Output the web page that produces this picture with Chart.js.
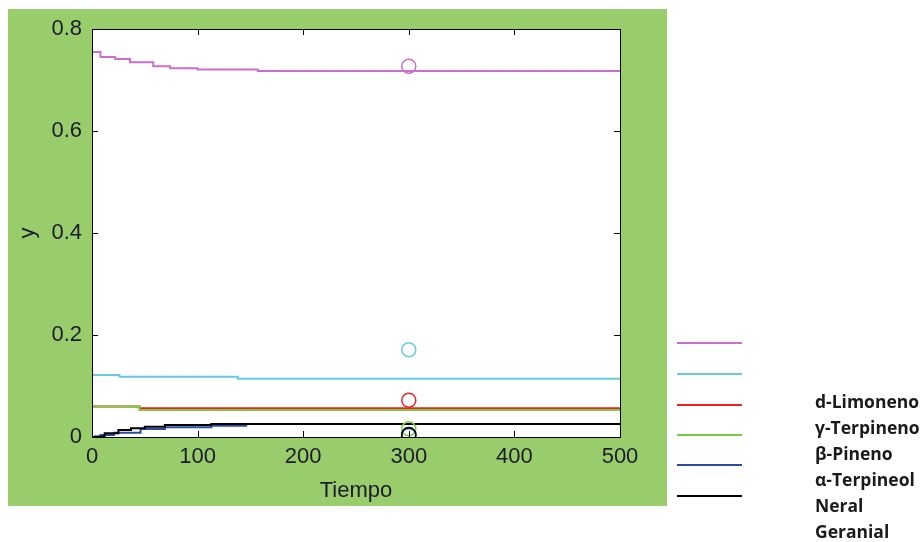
<!DOCTYPE html>
<html lang="es">
<head>
  <meta charset="UTF-8" />
  <title>y vs Tiempo</title>
  <script src="https://cdn.jsdelivr.net/npm/chart.js"></script>
  <style>
    body {
      margin: 0;
      background: #ffffff;
      width: 922px;
      height: 542px;
      position: relative;
      overflow: hidden;
    }
    #grafico {
      position: absolute;
      left: 0;
      top: 0;
    }
    .ley-linea {
      position: absolute;
      left: 677px;
      width: 65px;
      height: 2px;
    }
    .ley-texto {
      position: absolute;
      left: 815px;
      font-family: "Open Sans", Lato, sans-serif;
      font-weight: bold;
      font-size: 17.5px;
      color: #1a1a1a;
      line-height: 26px;
      white-space: nowrap;
    }
  </style>
</head>
<body>
  <canvas id="grafico" width="922" height="542"></canvas>
  <div id="leyenda"></div>

  <script>
    // componentes (orden de la leyenda)
    const componentes = ['d-Limoneno', 'γ-Terpineno', 'β-Pineno', 'α-Terpineol', 'Neral', 'Geranial'];
    const colores = ['#cc6ecc', '#66ccdd', '#ee2222', '#77cc44', '#2a4aa8', '#000000'];

    // curvas del modelo (escalonadas)
    const tLimoneno = [0, 8, 22, 36, 58, 74, 100, 157, 500];
    const yLimoneno = [0.755, 0.745, 0.741, 0.735, 0.727, 0.723, 0.7205, 0.7175, 0.7175];
    const tTerpineno = [0, 26, 138, 500];
    const yTerpineno = [0.1215, 0.1182, 0.1143, 0.1143];
    const tPineno = [0, 45, 500];
    const yPineno = [0.0598, 0.0565, 0.0565];
    const tTerpineol = [0, 45, 500];
    const yTerpineol = [0.0598, 0.0528, 0.0528];
    const tNeral = [0, 8, 21, 46, 69, 113, 146, 500];
    const yNeral = [0, 0.004, 0.0085, 0.0157, 0.019, 0.022, 0.0255, 0.0255];
    const tGeranial = [0, 3, 12, 25, 37, 50, 69, 113, 500];
    const yGeranial = [0, 0.001, 0.0073, 0.0137, 0.017, 0.020, 0.0235, 0.0255, 0.0255];

    // datos experimentales (circulos)
    const tExp = 300;
    const yExp = [0.727, 0.171, 0.072, 0.016, 0.003, 0.005];

    // ejes
    const xTicks = [0, 100, 200, 300, 400, 500];
    const yTicks = [0, 0.2, 0.4, 0.6, 0.8];

    const curvasT = [tLimoneno, tTerpineno, tPineno, tTerpineol, tNeral, tGeranial];
    const curvasY = [yLimoneno, yTerpineno, yPineno, yTerpineol, yNeral, yGeranial];

    const datasets = [];
    componentes.forEach((nombre, i) => {
      datasets.push({
        label: nombre,
        data: curvasT[i].map((t, k) => ({ x: t, y: curvasY[i][k] })),
        borderColor: colores[i],
        borderWidth: 2,
        pointRadius: 0,
        stepped: true,
        fill: false,
        order: 20 - i
      });
    });
    componentes.forEach((nombre, i) => {
      datasets.push({
        label: nombre + ' exp',
        type: 'scatter',
        data: [{ x: tExp, y: yExp[i] }],
        borderColor: colores[i],
        backgroundColor: 'rgba(0,0,0,0)',
        borderWidth: 1.5,
        pointRadius: 7,
        pointHoverRadius: 7,
        order: 6 - i
      });
    });

    const fondoYMarco = {
      id: 'fondoYMarco',
      beforeDraw(chart) {
        const ctx = chart.ctx;
        ctx.save();
        ctx.fillStyle = '#99cc6a';
        ctx.fillRect(8, 9, 659, 497);
        const a = chart.chartArea;
        ctx.fillStyle = '#ffffff';
        ctx.fillRect(a.left, a.top, a.right - a.left, a.bottom - a.top);
        ctx.restore();
      },
      afterDraw(chart) {
        const ctx = chart.ctx;
        const a = chart.chartArea;
        const xs = chart.scales.x, ys = chart.scales.y;
        ctx.save();
        ctx.strokeStyle = '#000';
        ctx.lineWidth = 1;
        ctx.strokeRect(Math.round(a.left) + 0.5, Math.round(a.top) + 0.5,
          Math.round(a.right - a.left), Math.round(a.bottom - a.top));
        ctx.beginPath();
        xTicks.forEach(v => {
          const px = Math.round(xs.getPixelForValue(v)) + 0.5;
          ctx.moveTo(px, a.bottom); ctx.lineTo(px, a.bottom - 6);
          ctx.moveTo(px, a.top); ctx.lineTo(px, a.top + 6);
        });
        yTicks.forEach(v => {
          const py = Math.round(ys.getPixelForValue(v)) + 0.5;
          ctx.moveTo(a.left, py); ctx.lineTo(a.left + 6, py);
          ctx.moveTo(a.right, py); ctx.lineTo(a.right - 6, py);
        });
        ctx.stroke();
        ctx.restore();
      }
    };

    const fuenteEje = { family: '"Liberation Sans", Arial, sans-serif', size: 22 };

    new Chart(document.getElementById('grafico'), {
      type: 'line',
      data: { datasets },
      options: {
        responsive: false,
        animation: false,
        events: [],
        layout: { padding: { left: 0, top: 29, right: 302, bottom: 0 } },
        plugins: {
          legend: { display: false },
          tooltip: { enabled: false }
        },
        scales: {
          x: {
            type: 'linear',
            min: 0,
            max: 500,
            afterBuildTicks: s => { s.ticks = xTicks.map(v => ({ value: v })); },
            afterFit: s => { s.height = 105; },
            grid: { display: false, drawTicks: false },
            border: { display: false },
            ticks: { font: fuenteEje, color: '#1c1c2e', padding: 7, maxRotation: 0 },
            title: {
              display: true,
              text: 'Tiempo',
              font: fuenteEje,
              color: '#1c1c2e',
              padding: { top: 0, bottom: 38 }
            }
          },
          y: {
            min: 0,
            max: 0.8,
            afterBuildTicks: s => { s.ticks = yTicks.map(v => ({ value: v })); },
            afterFit: s => { s.width = 92; },
            grid: { display: false, drawTicks: false },
            border: { display: false },
            ticks: {
              font: fuenteEje,
              color: '#1c1c2e',
              padding: 10,
              callback: v => (v === 0 ? '0' : v.toFixed(1))
            },
            title: {
              display: true,
              text: 'y',
              font: fuenteEje,
              color: '#1c1c2e',
              padding: { top: 15, bottom: 0 }
            }
          }
        }
      },
      plugins: [fondoYMarco]
    });

    // leyenda (lineas y textos separados, como en la figura original)
    const leyenda = document.getElementById('leyenda');
    const lineasY = [342, 373, 404, 434, 464, 495];
    colores.forEach((c, i) => {
      leyenda.innerHTML += `<div class="ley-linea" style="top:${lineasY[i]}px;background:${c}"></div>`;
    });
    componentes.forEach((nombre, i) => {
      leyenda.innerHTML += `<div class="ley-texto" style="top:${388 + i * 26}px">${nombre}</div>`;
    });
  </script>
</body>
</html>
